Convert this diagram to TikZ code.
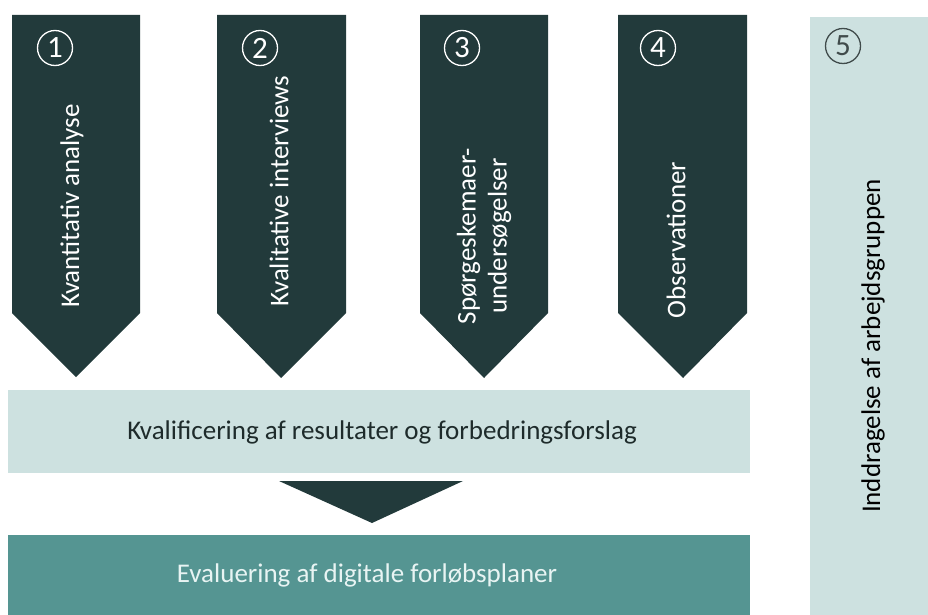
\documentclass[tikz,border=0pt]{standalone}
\usepackage{fontspec}
\setmainfont{Carlito}
\usepackage{tikz}
\usetikzlibrary{shapes,arrows,positioning,calc}
\definecolor{moerk}{HTML}{223A3B}
\definecolor{lys}{HTML}{CDE1E0}
\definecolor{groen}{HTML}{559592}
\definecolor{lystekst}{HTML}{E8F4F3}
\definecolor{tekst}{HTML}{1E2B2B}
\tikzset{
pil/.style = {fill=moerk},
felt/.style = {fill=lys},
bund/.style = {fill=groen},
pilnavn/.style = {rotate=90, text=white, font=\fontsize{27}{31}\selectfont, align=center, inner sep=0pt},
nummer/.style = {circle, draw=white, line width=1.3pt, text=white, minimum size=35pt, inner sep=0pt, font=\fontsize{31}{31}\selectfont},
}
\begin{document}
\begin{tikzpicture}[x=1pt,y=-1pt]
  \useasboundingbox (0,0) rectangle (928,615);
  % pile
  \fill[pil] (12,15) -- (140,15) -- (140,313) -- (76,377) -- (12,313) -- cycle;
  \fill[pil] (217,15) -- (346,15) -- (346,313) -- (281,378) -- (217,313) -- cycle;
  \fill[pil] (420,15) -- (548,15) -- (548,313) -- (484,378) -- (420,313) -- cycle;
  \fill[pil] (618,15) -- (747,15) -- (747,313) -- (683,378) -- (618,313) -- cycle;
  \node[nummer] (n1) at (55,48) {1};
  \node[nummer] (n2) at (260,48) {2};
  \node[nummer] (n3) at (462,48) {3};
  \node[nummer] (n4) at (658,48) {4};
  \node[pilnavn] (p1) at (72,206) {Kvantitativ analyse};
  \node[pilnavn] (p2) at (279,191) {Kvalitative interviews};
  \node[pilnavn] (p3) at (484,236) {Spørgeskemaer-\\undersøgelser};
  \node[pilnavn] (p4) at (676,240) {Observationer};
  % arbejdsgruppe
  \fill[felt] (810,17) rectangle (928,615);
  \node[nummer, draw=tekst!85, text=tekst!85] (n5) at (843,46) {5};
  \node[pilnavn, text=black] (p5) at (873,346) {Inddragelse af arbejdsgruppen};
  % kvalificering og evaluering
  \node[felt, minimum width=742pt, minimum height=83pt, anchor=north west, inner sep=0pt] (kval) at (8,390)
    {};
  \node[text=tekst, font=\fontsize{27}{31}\selectfont] (kvaltekst) at (382,432) {Kvalificering af resultater og forbedringsforslag};
  \fill[pil] (279,481) -- (463,481) -- (372,523) -- cycle;
  \node[bund, minimum width=742pt, minimum height=80pt, anchor=north west, inner sep=0pt] (eval) at (8,535) {};
  \node[text=lystekst, font=\fontsize{27}{31}\selectfont] (evaltekst) at (367,575) {Evaluering af digitale forløbsplaner};
\end{tikzpicture}
\end{document}
